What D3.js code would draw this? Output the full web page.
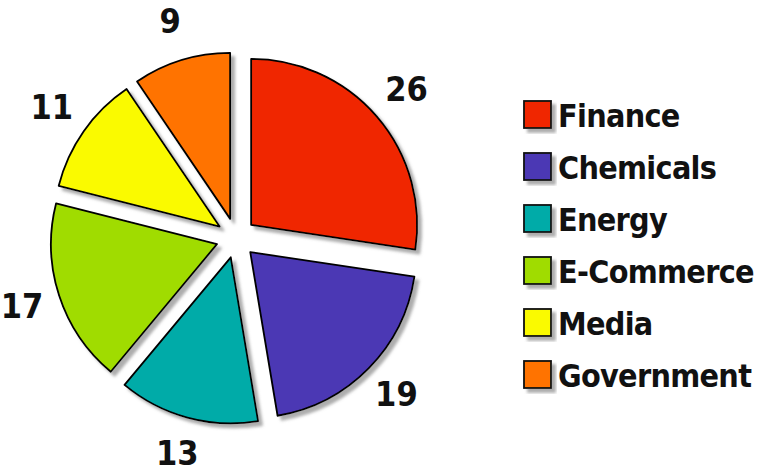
<!DOCTYPE html>
<html>
<head>
<meta charset="utf-8">
<script src="https://cdn.jsdelivr.net/npm/d3@7"></script>
<style>
  body { margin: 0; background: #fff; }
  text { font-family: "DejaVu Sans Condensed", "DejaVu Sans", sans-serif; font-weight: bold; }
</style>
</head>
<body>
<script>
const categories = ["Finance", "Chemicals", "Energy", "E-Commerce", "Media", "Government"];
const values = [26, 19, 13, 17, 11, 9];
const colors = ["#f02800", "#4b37b4", "#00aba8", "#a0dc00", "#fafa00", "#ff7300"];

const width = 772, height = 475;
const cx = 236, cy = 238;
const radius = 166, explode = 20, labelR = 225;

const svg = d3.select("body").append("svg")
  .attr("width", width)
  .attr("height", height);

// soft grey shadow under the slices
const defs = svg.append("defs");
defs.append("filter")
  .attr("id", "shadow")
  .attr("x", "-20%").attr("y", "-20%")
  .attr("width", "140%").attr("height", "140%")
  .append("feDropShadow")
  .attr("dx", 4).attr("dy", 4)
  .attr("stdDeviation", 1.5)
  .attr("flood-color", "#777")
  .attr("flood-opacity", 0.6);

const pie = d3.pie().sort(null).value(d => d);
const arcs = pie(values);
const arc = d3.arc().innerRadius(0).outerRadius(radius);

const g = svg.append("g").attr("transform", "translate(" + cx + "," + cy + ")");

g.selectAll("path.slice")
  .data(arcs)
  .enter().append("path")
  .attr("class", "slice")
  .attr("d", arc)
  .attr("transform", d => {
    const a = (d.startAngle + d.endAngle) / 2;
    return "translate(" + (Math.sin(a) * explode) + "," + (-Math.cos(a) * explode) + ")";
  })
  .attr("fill", (d, i) => colors[i])
  .attr("stroke", "#000")
  .attr("stroke-width", 1.8)
  .attr("stroke-linejoin", "round")
  .attr("filter", "url(#shadow)");

g.selectAll("text.value")
  .data(arcs)
  .enter().append("text")
  .attr("class", "value")
  .attr("x", d => Math.sin((d.startAngle + d.endAngle) / 2) * labelR)
  .attr("y", d => -Math.cos((d.startAngle + d.endAngle) / 2) * labelR)
  .attr("dy", "0.3em")
  .attr("text-anchor", "middle")
  .attr("font-size", 34)
  .attr("fill", "#111")
  .text(d => d.data);

// legend
const legend = svg.append("g").attr("transform", "translate(524,101)");
const row = legend.selectAll("g")
  .data(categories)
  .enter().append("g")
  .attr("transform", (d, i) => "translate(0," + (i * 52) + ")");

row.append("rect")
  .attr("width", 27).attr("height", 27)
  .attr("fill", (d, i) => colors[i])
  .attr("stroke", "#111")
  .attr("stroke-width", 1.8)
  .attr("filter", "url(#shadow)");

row.append("text")
  .attr("x", 34)
  .attr("y", 26)
  .attr("font-size", 32)
  .attr("letter-spacing", -0.7)
  .attr("fill", "#111")
  .text(d => d);
</script>
</body>
</html>
